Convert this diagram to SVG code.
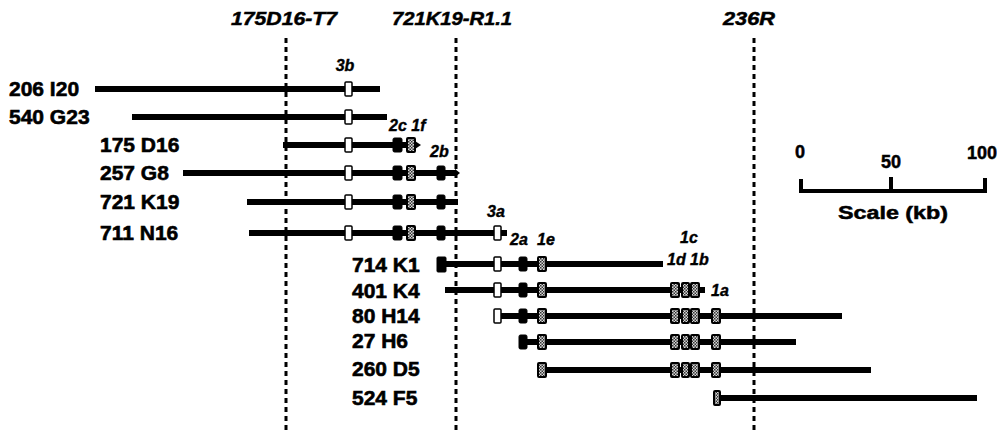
<svg xmlns="http://www.w3.org/2000/svg" width="997" height="432" viewBox="0 0 997 432">
<defs>
<pattern id="hatch" width="3" height="3" patternUnits="userSpaceOnUse">
<rect width="3" height="3" fill="#d8d8d8"/>
<rect x="0" y="0" width="1.5" height="1.5" fill="#333"/>
<rect x="1.5" y="1.5" width="1.5" height="1.5" fill="#333"/>
</pattern>
<style>
.lbl{font-family:"Liberation Sans",Arial,sans-serif;font-weight:bold;font-size:21px;fill:#000;stroke:#000;stroke-width:0.6}
.top{font-family:"Liberation Sans",Arial,sans-serif;font-weight:bold;font-style:italic;font-size:19px;fill:#000;stroke:#000;stroke-width:0.5}
.ex{font-family:"Liberation Sans",Arial,sans-serif;font-weight:bold;font-style:italic;font-size:16px;fill:#000;stroke:#000;stroke-width:0.4}
.sc{font-family:"Liberation Sans",Arial,sans-serif;font-weight:bold;font-size:18px;fill:#000;stroke:#000;stroke-width:0.5}
.ln{stroke:#000;stroke-width:6;fill:none}
.dash{stroke:#000;stroke-width:3;stroke-dasharray:5 4;fill:none}
.w{fill:#fff;stroke:#000;stroke-width:1.5}
.b{fill:#000;stroke:#000;stroke-width:1}
.h{fill:url(#hatch);stroke:#000;stroke-width:2}
</style>
</defs>
<rect width="997" height="432" fill="#fff"/>

<g id="markers">
<line class="dash" x1="286" y1="38" x2="286" y2="432"/>
<line class="dash" x1="456" y1="38" x2="456" y2="432"/>
<line class="dash" x1="754" y1="38" x2="754" y2="432"/>
<text class="top" x="231" y="25" textLength="106" lengthAdjust="spacingAndGlyphs">175D16-T7</text>
<text class="top" x="392" y="25" textLength="120" lengthAdjust="spacingAndGlyphs">721K19-R1.1</text>
<text class="top" x="723" y="25" textLength="52" lengthAdjust="spacingAndGlyphs">236R</text>
</g>

<g id="clone-206I20">
<text class="lbl" x="9" y="96">206 I20</text>
<line class="ln" x1="95" y1="89" x2="380" y2="89"/>
<rect class="w" x="345" y="82" width="7" height="14" rx="1"/>
</g>
<g id="clone-540G23">
<text class="lbl" x="9" y="124">540 G23</text>
<line class="ln" x1="132" y1="117" x2="387" y2="117"/>
<rect class="w" x="345" y="110" width="7" height="14" rx="1"/>
</g>
<g id="clone-175D16">
<text class="lbl" x="100" y="152">175 D16</text>
<line class="ln" x1="283" y1="145" x2="416" y2="145"/>
<polygon points="415,141 421,145 415,149" fill="#000"/>
<rect class="w" x="345" y="138" width="7" height="14" rx="1"/>
<rect class="b" x="393" y="138" width="9" height="14" rx="1.5"/>
<rect class="h" x="407" y="138" width="8" height="14" rx="1"/>
</g>
<g id="clone-257G8">
<text class="lbl" x="100" y="180">257 G8</text>
<line class="ln" x1="183" y1="173" x2="456" y2="173"/>
<polygon points="455,169 460,173 455,177" fill="#000"/>
<rect class="w" x="345" y="166" width="7" height="14" rx="1"/>
<rect class="b" x="393" y="166" width="9" height="14" rx="1.5"/>
<rect class="h" x="407" y="166" width="8" height="14" rx="1"/>
<rect class="b" x="437" y="166" width="8" height="14" rx="1.5"/>
</g>
<g id="clone-721K19">
<text class="lbl" x="100" y="209">721 K19</text>
<line class="ln" x1="247" y1="202" x2="458" y2="202"/>
<rect class="w" x="345" y="195" width="7" height="14" rx="1"/>
<rect class="b" x="393" y="195" width="9" height="14" rx="1.5"/>
<rect class="h" x="407" y="195" width="8" height="14" rx="1"/>
<rect class="b" x="437" y="195" width="8" height="14" rx="1.5"/>
</g>
<g id="clone-711N16">
<text class="lbl" x="100" y="240">711 N16</text>
<line class="ln" x1="249" y1="233" x2="507" y2="233"/>
<rect class="w" x="345" y="226" width="7" height="14" rx="1"/>
<rect class="b" x="393" y="226" width="9" height="14" rx="1.5"/>
<rect class="h" x="407" y="226" width="8" height="14" rx="1"/>
<rect class="b" x="437" y="226" width="8" height="14" rx="1.5"/>
<rect class="w" x="494" y="226" width="7" height="14" rx="1"/>
</g>
<g id="clone-714K1">
<text class="lbl" x="352" y="272">714 K1</text>
<line class="ln" x1="440" y1="264" x2="663" y2="264"/>
<rect class="b" x="437" y="257" width="9" height="15" rx="1"/>
<rect class="w" x="494" y="257" width="7" height="14" rx="1"/>
<rect class="b" x="519" y="257" width="8" height="14" rx="1.5"/>
<rect class="h" x="538" y="257" width="8" height="14" rx="1"/>
</g>
<g id="clone-401K4">
<text class="lbl" x="352" y="298">401 K4</text>
<line class="ln" x1="445" y1="290" x2="705" y2="290"/>
<rect class="w" x="494" y="283" width="7" height="14" rx="1"/>
<rect class="b" x="519" y="283" width="8" height="14" rx="1.5"/>
<rect class="h" x="538" y="283" width="8" height="14" rx="1"/>
<rect class="h" x="671" y="283" width="8" height="14" rx="1"/>
<rect class="h" x="682" y="283" width="7" height="14" rx="1"/>
<rect class="h" x="691" y="283" width="8" height="14" rx="1"/>
</g>
<g id="clone-80H14">
<text class="lbl" x="352" y="323">80 H14</text>
<line class="ln" x1="497" y1="316" x2="842" y2="316"/>
<rect class="w" x="494" y="309" width="7" height="14" rx="1"/>
<rect class="b" x="519" y="309" width="8" height="14" rx="1.5"/>
<rect class="h" x="538" y="309" width="8" height="14" rx="1"/>
<rect class="h" x="671" y="309" width="8" height="14" rx="1"/>
<rect class="h" x="682" y="309" width="7" height="14" rx="1"/>
<rect class="h" x="691" y="309" width="8" height="14" rx="1"/>
<rect class="h" x="712" y="309" width="8" height="14" rx="1"/>
</g>
<g id="clone-27H6">
<text class="lbl" x="352" y="348">27 H6</text>
<line class="ln" x1="522" y1="342" x2="796" y2="342"/>
<rect class="b" x="519" y="335" width="8" height="14" rx="1.5"/>
<rect class="h" x="538" y="335" width="8" height="14" rx="1"/>
<rect class="h" x="671" y="335" width="8" height="14" rx="1"/>
<rect class="h" x="682" y="335" width="7" height="14" rx="1"/>
<rect class="h" x="691" y="335" width="8" height="14" rx="1"/>
<rect class="h" x="712" y="335" width="8" height="14" rx="1"/>
</g>
<g id="clone-260D5">
<text class="lbl" x="352" y="376">260 D5</text>
<line class="ln" x1="542" y1="370" x2="871" y2="370"/>
<rect class="h" x="538" y="363" width="8" height="14" rx="1"/>
<rect class="h" x="671" y="363" width="8" height="14" rx="1"/>
<rect class="h" x="682" y="363" width="7" height="14" rx="1"/>
<rect class="h" x="691" y="363" width="8" height="14" rx="1"/>
<rect class="h" x="712" y="363" width="8" height="14" rx="1"/>
</g>
<g id="clone-524F5">
<text class="lbl" x="352" y="405">524 F5</text>
<line class="ln" x1="718" y1="398" x2="977" y2="398"/>
<rect class="h" x="714" y="391" width="6" height="14" rx="1"/>
</g>

<g id="exon-labels">
<text class="ex" x="345" y="71" text-anchor="middle">3b</text>
<text class="ex" x="389" y="131">2c 1f</text>
<text class="ex" x="430" y="157">2b</text>
<text class="ex" x="487" y="217">3a</text>
<text class="ex" x="510" y="245">2a</text>
<text class="ex" x="537" y="245">1e</text>
<text class="ex" x="680" y="243">1c</text>
<text class="ex" x="667" y="265">1d 1b</text>
<text class="ex" x="711" y="296">1a</text>
</g>

<g id="scale">
<path d="M801,179 V191 H985 V178 M891,177 V191" stroke="#000" stroke-width="4" fill="none"/>
<text class="sc" x="800" y="158" text-anchor="middle">0</text>
<text class="sc" x="891" y="168" text-anchor="middle">50</text>
<text class="sc" x="982" y="159" text-anchor="middle">100</text>
<text class="sc" x="838" y="219" font-size="20" textLength="110" lengthAdjust="spacingAndGlyphs">Scale (kb)</text>
</g>
</svg>
